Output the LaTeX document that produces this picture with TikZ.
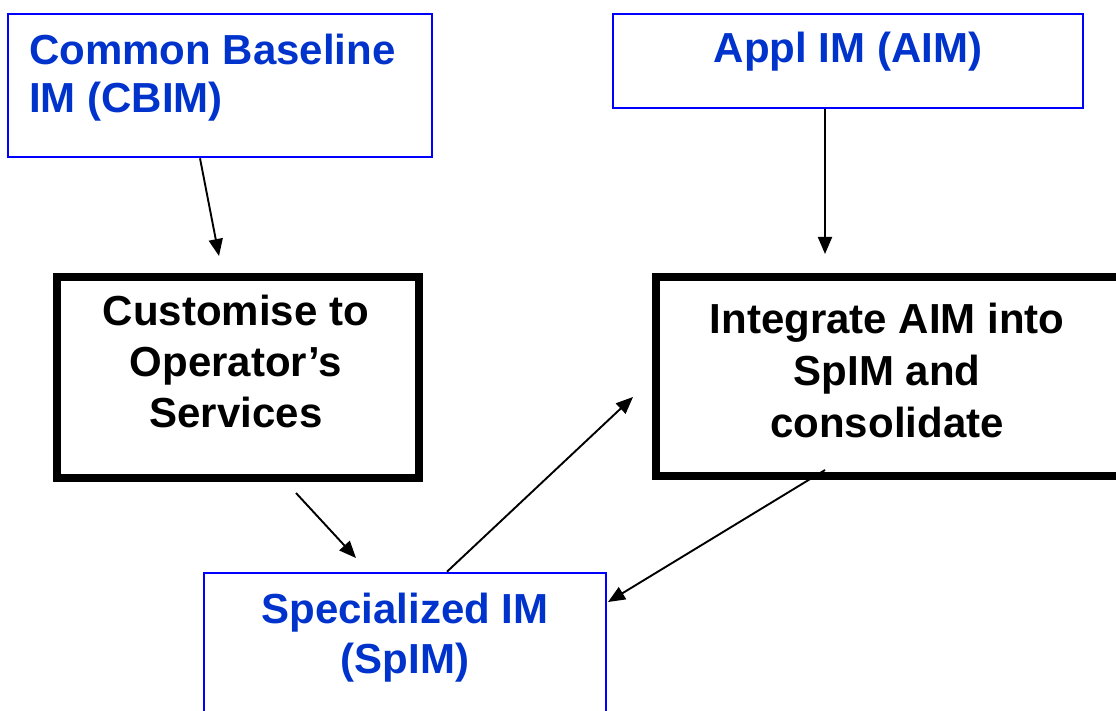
\documentclass[tikz,border=0pt]{standalone}
\usepackage{fontspec}
\setmainfont{Liberation Sans}
\usetikzlibrary{arrows.meta}
\definecolor{boxblue}{RGB}{0,0,255}
\definecolor{txtblue}{RGB}{0,51,204}
\begin{document}
\begin{tikzpicture}[x=1pt,y=-1pt,
  bluebox/.style={draw=boxblue,line width=2.6pt,rectangle,inner sep=0pt},
  thickbox/.style={draw=black,line width=8pt,rectangle,inner sep=0pt},
  bluetxt/.style={text=txtblue,font=\fontsize{42}{50}\selectfont\bfseries,inner sep=0pt,anchor=base},
  blacktxt/.style={text=black,font=\fontsize{42}{52}\selectfont\bfseries,inner sep=0pt,anchor=base,align=center},
  conn/.style={line width=1.9pt,-{Triangle[length=17pt,width=14pt]}}]
\useasboundingbox (0,0) rectangle (1116,711);
\clip (0,0) rectangle (1116,711);
% boxes
\node[bluebox,minimum width=424pt,minimum height=143pt] (cbim) at (220,85.5) {};
\node[bluebox,minimum width=470pt,minimum height=94pt] (aim) at (848,61) {};
\node[thickbox,minimum width=362pt,minimum height=201pt] (cust) at (238,377.5) {};
\node[thickbox,minimum width=474pt,minimum height=199pt] (integ) at (893,376.5) {};
\node[bluebox,minimum width=402pt,minimum height=157pt] (spim) at (405,651.5) {};
% texts
\node[bluetxt,font=\fontsize{42}{48}\selectfont\bfseries,align=left,anchor=base west] (cbimT) at (29,113) {Common Baseline\\IM (CBIM)};
\node[bluetxt] (aimT) at (848,63) {Appl IM (AIM)};
\node[blacktxt,font=\fontsize{42}{51}\selectfont\bfseries] (custT) at (236,427) {Customise to\\Operator’s\\Services};
\node[blacktxt] (integT) at (887,437) {Integrate AIM into\\SpIM and\\consolidate};
\node[bluetxt,align=center] (spimT) at (405,673) {Specialized IM\\(SpIM)};
% arrow ends
\coordinate (t1) at (219,256);
\coordinate (t2) at (825,254);
\coordinate (s3) at (296,493);
\coordinate (t3) at (356,558);
\coordinate (t4) at (633,397);
\coordinate (s5) at (825,470);
\coordinate (t5) at (608,602);
\draw[conn] (cbim.south -| 200,0) -- (t1);
\draw[conn] (aim.south -| t2) -- (t2);
\draw[conn] (s3) -- (t3);
\draw[conn] (spim.north -| 447,0) -- (t4);
\draw[conn] (s5) -- (t5);
\end{tikzpicture}
\end{document}
